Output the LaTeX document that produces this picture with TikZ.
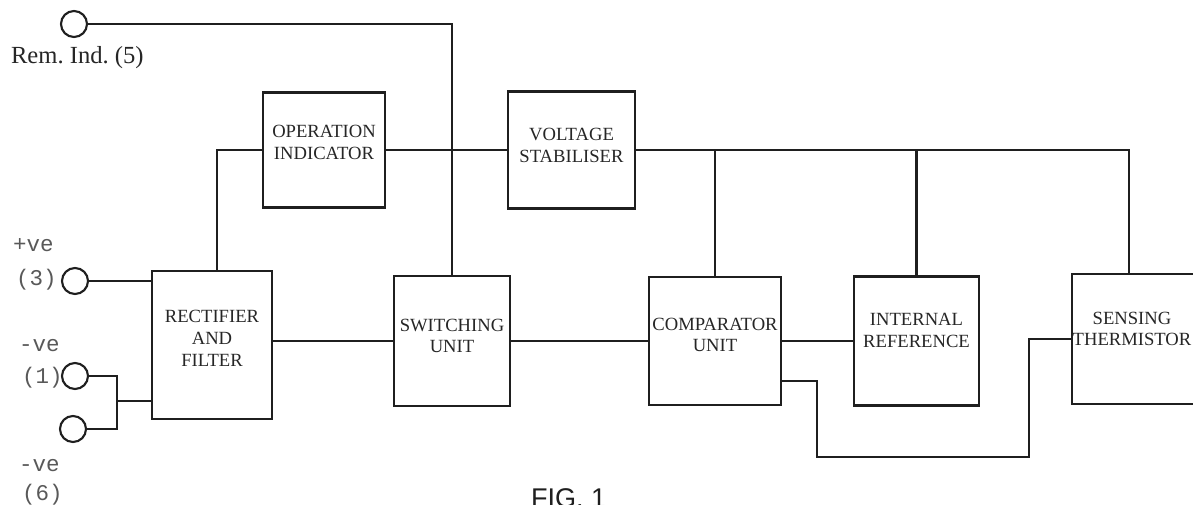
\documentclass[tikz,border=0pt]{standalone}
\usepackage{fontspec}
\setmainfont{Liberation Serif}
\newfontfamily\termfont{Liberation Mono}
\newfontfamily\figfont{Liberation Sans}
\usepackage{tikz}

\begin{document}
\begin{tikzpicture}[x=0.02cm, y=-0.02cm, line width=1.2pt, color=black!88,
        blk/.style = {draw, line width=1.3pt, inner sep=0pt},
        lbl/.style = {align=center, inner sep=0pt, text=black!85, font=\fontsize{10.6}{12.4}\selectfont},
        jack/.style = {draw, circle, minimum size=0.52cm, inner sep=0pt},
        termtxt/.style = {anchor=base west, inner sep=0pt, text=black!65, font=\termfont\fontsize{12.8}{14}\selectfont}]

        \useasboundingbox (0,0) rectangle (1193,504);

        % Terminals
        \node[jack] (rem) at (74,24) {};
        \node[jack] (pos) at (75,281) {};
        \node[jack] (neg1) at (75,376) {};
        \node[jack] (neg6) at (73,429) {};
        \node[anchor=base west, inner sep=0pt, text=black!85, font=\fontsize{14}{16}\selectfont] (remtxt) at (10,63) {Rem.\ Ind.\ (5)};
        \node[termtxt] (postxt) at (12,251) {+ve};
        \node[termtxt] (posnum) at (15,285) {(3)};
        \node[termtxt] (neg1txt) at (18,351) {-ve};
        \node[termtxt] (neg1num) at (21,383) {(1)};
        \node[termtxt] (neg6txt) at (18,471) {-ve};
        \node[termtxt] (neg6num) at (21,500) {(6)};

        % Blocks
        \node[blk, minimum width=2.44cm, minimum height=2.3cm] (opind) at (324,150) {};
        \node[lbl] (opindtxt) at (324,142.5) {OPERATION\\INDICATOR};
        \node[blk, minimum width=2.54cm, minimum height=2.34cm] (volt) at (571.5,150) {};
        \node[lbl] (volttxt) at (571.5,145.5) {VOLTAGE\\STABILISER};
        \node[blk, minimum width=2.4cm, minimum height=2.96cm] (rect) at (212,345) {};
        \node[lbl] (recttxt) at (212,338.5) {RECTIFIER\\AND\\FILTER};
        \node[blk, minimum width=2.32cm, minimum height=2.6cm] (sw) at (452,341) {};
        \node[lbl] (swtxt) at (452,336) {SWITCHING\\UNIT};
        \node[blk, minimum width=2.64cm, minimum height=2.56cm] (comp) at (715,341) {};
        \node[lbl] (comptxt) at (715,335) {COMPARATOR\\UNIT};
        \node[blk, minimum width=2.5cm, minimum height=2.58cm] (iref) at (916.5,341) {};
        \node[lbl] (ireftxt) at (916.5,330.5) {INTERNAL\\REFERENCE};
        \node[blk, minimum width=2.5cm, minimum height=2.6cm] (sens) at (1134.5,339) {};
        \node[lbl] (senstxt) at (1132,329) {SENSING\\THERMISTOR};

        \node[anchor=base west, inner sep=0pt, font=\figfont\fontsize{15.4}{17}\selectfont] (fig) at (530,507) {FIG. 1};

        % Wiring
        \coordinate (nj) at (117,401);
        \coordinate (bend1) at (817,457);
        \coordinate (bend2) at (1029,457);
        \draw (rem.east) -| (sw.north);
        \draw ([xshift=0.1cm]rect.north) |- (opind.west);
        \draw (opind.east) -- (volt.west);
        \draw (volt.east) -| ([xshift=-0.11cm]sens.north);
        \draw (comp.north) -- (comp.north |- volt.east);
        \draw (iref.north) -- (iref.north |- volt.east);
        \draw (pos.east) -- (pos.east -| rect.west);
        \draw (neg1.east) -| (nj) |- (neg6.east);
        \draw (nj) -- (nj -| rect.west);
        \draw (rect.east |- sw.west) -- (sw.west);
        \draw (sw.east) -- (comp.west);
        \draw (comp.east |- iref.west) -- (iref.west);
        \draw ([yshift=-0.8cm]comp.east) -| (bend1) -- (bend2) |- (sens.west);
\end{tikzpicture}
\end{document}
